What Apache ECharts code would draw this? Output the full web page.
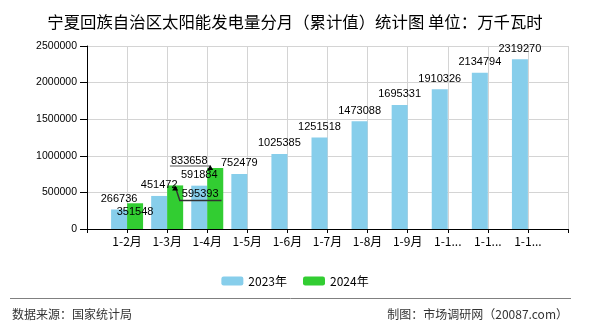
<!DOCTYPE html>
<html><head><meta charset="utf-8">
<script src="https://cdn.jsdelivr.net/npm/echarts@6/dist/echarts.min.js"></script>
<style>html,body{margin:0;padding:0;background:#fff}#c{width:590px;height:330px}</style>
</head><body><div id="c"></div>
<script>
const categories = ['', '1-2月', '1-3月', '1-4月', '1-5月', '1-6月', '1-7月', '1-8月', '1-9月', '1-10月', '1-11月', '1-12月', ''];
const values2023 = [null, 266736, 451472, 591884, 752479, 1025385, 1251518, 1473088, 1695331, 1910326, 2134794, 2319270, null];
const values2024 = [null, 351548, 595393, 833658, null, null, null, null, null, null, null, null, null];
const yTicks = [0, 500000, 1000000, 1500000, 2000000, 2500000];

// label displacement (overlap avoidance seen in the original), keyed "series-dataIndex": [dx, dy, guideColor]
const labelShift = {'1-1': [0, 19, null], '1-2': [25, 19, '#333'], '1-3': [-26, 3, '#8c8c8c']};

const FONT = '"Noto Sans CJK SC", "Liberation Sans", sans-serif';
const chart = echarts.init(document.getElementById('c'));
const labelCfg = {show: true, position: 'top', color: '#000', fontSize: 11, fontFamily: 'Liberation Sans', distance: 5};

const guides = {};
function layoutFn(p) {
  const key = p.seriesIndex + '-' + p.dataIndex;
  const s = labelShift[key];
  if (!s) return {};
  const r = p.labelRect, b = p.rect;
  const nx = r.x + s[0], ny = r.y + s[1];
  const bottom = ny + r.height - 1;
  if (s[2]) {
    let pts;
    if (s[0] > 0) {
      pts = [[b.x + b.width / 2, b.y + 1], [nx - 2, bottom + 2], [nx + r.width + 3, bottom + 2]];
    } else {
      pts = [[b.x + 3, b.y - 2], [nx - 1, b.y - 2]];
    }
    guides[key] = {pts: pts, color: s[2]};
  }
  return {dx: s[0], dy: s[1]};
}

const baseOption = {
  animation: false,
  textStyle: {fontFamily: FONT},
  title: {
    text: '宁夏回族自治区太阳能发电量分月（累计值）统计图 单位：万千瓦时',
    left: 'center', top: 9,
    textStyle: {fontSize: 16.4, fontWeight: 'normal', color: '#000', fontFamily: FONT}
  },
  legend: {
    top: 270, left: 'center', itemWidth: 22, itemHeight: 9, itemGap: 16,
    textStyle: {fontSize: 12, color: '#000', fontFamily: FONT},
    data: ['2023年', '2024年']
  },
  grid: {left: 87, right: 22, top: 46, bottom: 101, containLabel: false},
  xAxis: {
    type: 'category', data: categories, boundaryGap: false,
    axisLine: {lineStyle: {color: '#000'}},
    axisTick: {show: true, lineStyle: {color: '#000'}, length: 4},
    splitLine: {show: true, lineStyle: {color: '#d4d4d4'}},
    axisLabel: {interval: 0, color: '#000', fontSize: 12, width: 34, overflow: 'truncate', fontFamily: FONT, margin: 6}
  },
  yAxis: {
    type: 'value', min: yTicks[0], max: yTicks[yTicks.length - 1], interval: yTicks[1] - yTicks[0],
    axisLine: {show: true, lineStyle: {color: '#000'}},
    axisTick: {show: true, lineStyle: {color: '#000'}, length: 7},
    splitLine: {show: true, lineStyle: {color: '#d4d4d4'}},
    axisLabel: {color: '#000', fontSize: 10.5, fontFamily: 'Liberation Sans', margin: 10, formatter: v => String(v)}
  },
  series: [
    {name: '2023年', type: 'bar', data: values2023, barWidth: 16, barGap: '0%', itemStyle: {color: '#87CEEB'},
     label: labelCfg, labelLayout: layoutFn},
    {name: '2024年', type: 'bar', data: values2024, barWidth: 16, barGap: '0%', itemStyle: {color: '#32CD32'},
     label: labelCfg, labelLayout: layoutFn}
  ],
  graphic: [
    {type: 'line', shape: {x1: 10, y1: 298.5, x2: 571, y2: 298.5}, style: {stroke: '#808080', lineWidth: 1}},
    {type: 'text', left: 12, top: 308, style: {text: '数据来源：国家统计局', fontSize: 12, fill: '#333', fontFamily: FONT}},
    {type: 'text', right: 22, top: 308, style: {text: '制图：市场调研网（20087.com）', fontSize: 12, fill: '#333', fontFamily: FONT}}
  ]
};
chart.setOption(baseOption);

// add guide lines for displaced labels, using geometry computed by the library's layout
const extra = [];
Object.keys(guides).forEach(k => {
  const g = guides[k];
  extra.push({type: 'polyline', z: 100, shape: {points: g.pts}, style: {stroke: g.color, lineWidth: 1.5, fill: null}});
  const p0 = g.pts[0];
  extra.push({type: 'polygon', z: 100, shape: {points: [[p0[0] - 3, p0[1] + 4], [p0[0] + 3, p0[1] + 4], [p0[0], p0[1] - 1]]}, style: {fill: '#000'}});
});
if (extra.length) {
  chart.setOption({graphic: baseOption.graphic.concat(extra)});
}
</script></body></html>
